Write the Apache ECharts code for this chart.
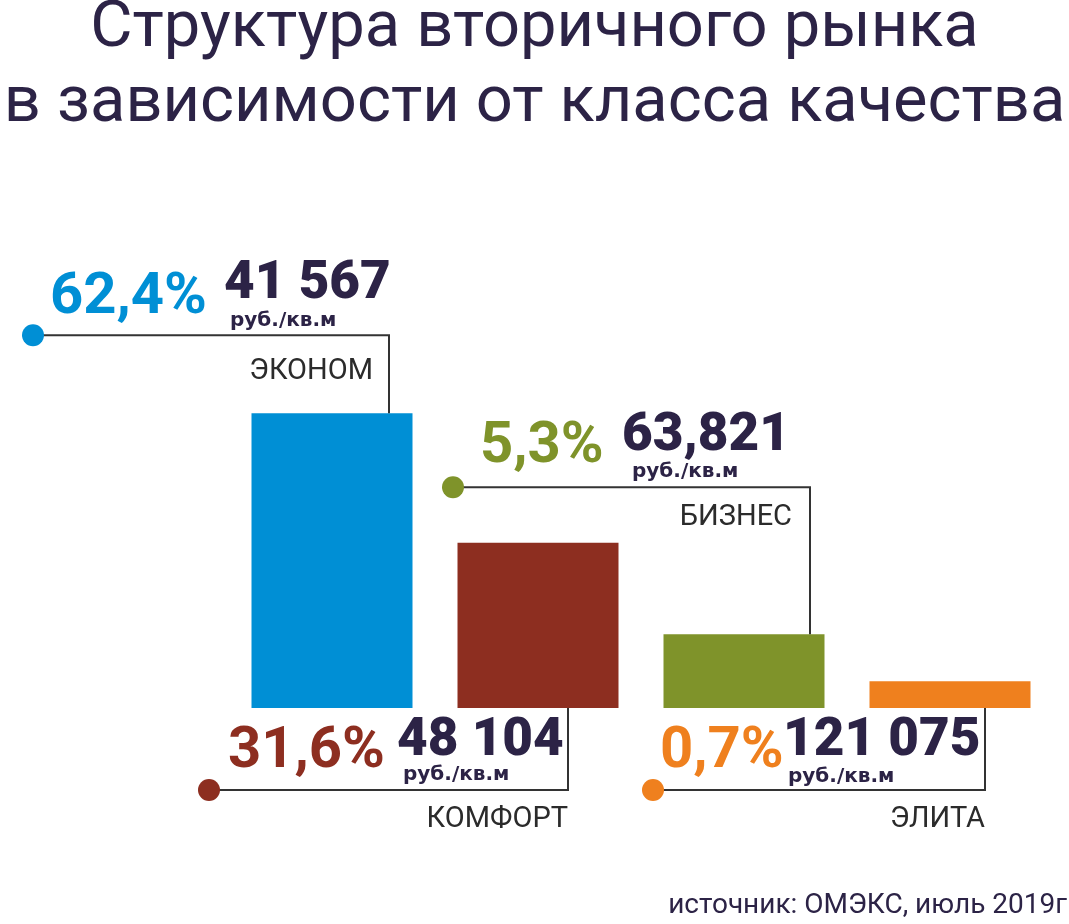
<!DOCTYPE html>
<html><head><meta charset="utf-8">
<script src="https://cdn.jsdelivr.net/npm/echarts@6/dist/echarts.min.js"></script>
<style>html,body{margin:0;padding:0;background:#fff}#chart{width:1069px;height:924px}</style>
</head><body><div id="chart"></div>
<script>
// ---- data ----
const titleLines = ['Структура вторичного рынка', 'в зависимости от класса качества'];
const sourceNote = 'источник: ОМЭКС, июль 2019г';
const categories = ['ЭКОНОМ', 'КОМФОРТ', 'БИЗНЕС', 'ЭЛИТА'];
const sharePercent = [62.4, 31.6, 5.3, 0.7];
const shareLabels = ['62,4%', '31,6%', '5,3%', '0,7%'];
const priceLabels = ['41 567', '48 104', '63,821', '121 075'];
const priceUnit = 'руб./кв.м';
// bar heights as drawn in the picture (scaled so that ЭКОНОМ = 62.4)
const barValues = [62.4, 35.0, 15.6, 5.65];

// ---- styles / layout ----
const colors = ['#008fd5', '#8d2e20', '#7f932a', '#ef801e'];
const darkText = '#2c2346';
const lineColor = '#333333';
// callout geometry in px relative to bar centre / connector level
const callouts = [
  {from: 'top',  vx: 57, dot: -299, dy: -78,  pct: [17, -17], price: [191, -32], unit: [197, -8], name: [-16, 47]},
  {from: 'base', vx: 30, dot: -329, dy: 82,   pct: [19, -18], price: [188, -30], unit: [194, -8], name: [0, 40]},
  {from: 'top',  vx: 66, dot: -291, dy: -147, pct: [27, -20], price: [169, -32], unit: [179, -9], name: [-18, 40]},
  {from: 'base', vx: 35, dot: -297, dy: 82,   pct: [7, -18],  price: [130, -30], unit: [135, -6], name: [0, 40]}
];

function txt(x, baseline, text, size, weight, color, family, align) {
  return {
    type: 'text', x: x, y: baseline - 0.342 * size,
    style: {
      text: text, fill: color, fontSize: size, fontWeight: weight, fontFamily: family,
      align: align, verticalAlign: 'middle', textAlign: align, textVerticalAlign: 'middle'
    }
  };
}

const chart = echarts.init(document.getElementById('chart'), null, {renderer: 'canvas'});
chart.setOption({
  animation: false,
  backgroundColor: '#ffffff',
  title: [
    {text: titleLines[0], left: 'center', top: -3, padding: 0,
     textStyle: {fontFamily: 'Roboto', fontWeight: 'normal', fontSize: 65, color: darkText}},
    {text: titleLines[1], left: 'center', top: 72, padding: 0,
     textStyle: {fontFamily: 'Roboto', fontWeight: 'normal', fontSize: 65, color: darkText}},
    {text: sourceNote, right: 2, top: 892, padding: 0,
     textStyle: {fontFamily: 'Roboto', fontWeight: 'normal', fontSize: 28, color: darkText}}
  ],
  grid: {left: 229, right: 16, top: 330, bottom: 216},
  xAxis: {type: 'category', data: categories, show: false},
  yAxis: {type: 'value', min: 0, max: 80, show: false},
  series: [
    {
      type: 'bar', barWidth: 161, silent: true,
      data: barValues.map((v, i) => ({value: v, itemStyle: {color: colors[i]}}))
    },
    {
      type: 'custom', clip: false, silent: true, z: 5,
      data: barValues.map((v, i) => [i, v]),
      renderItem: function (params, api) {
        const i = params.dataIndex;
        const top = api.coord([api.value(0), api.value(1)]);
        const base = api.coord([api.value(0), 0]);
        const c = callouts[i];
        const cx = top[0];
        const startY = c.from === 'top' ? top[1] : base[1];
        const V = cx + c.vx, L = startY + c.dy, D = cx + c.dot;
        return {
          type: 'group',
          children: [
            {type: 'polyline', shape: {points: [[V, startY], [V, L], [D, L]]},
             style: {stroke: lineColor, lineWidth: 2, fill: null}},
            {type: 'circle', shape: {cx: D, cy: L, r: 11}, style: {fill: colors[i]}},
            txt(D + c.pct[0], L + c.pct[1], shareLabels[i], 58, 'bold', colors[i], 'Roboto', 'left'),
            txt(D + c.price[0], L + c.price[1], priceLabels[i], 53, 900, darkText, 'Roboto', 'left'),
            txt(D + c.unit[0], L + c.unit[1], priceUnit, 20, 'bold', darkText, 'DejaVu Sans', 'left'),
            txt(V + c.name[0], L + c.name[1], categories[i], 29, 'normal', '#2b2b2b', 'Roboto', 'right')
          ]
        };
      }
    }
  ]
});
</script>
</body></html>
